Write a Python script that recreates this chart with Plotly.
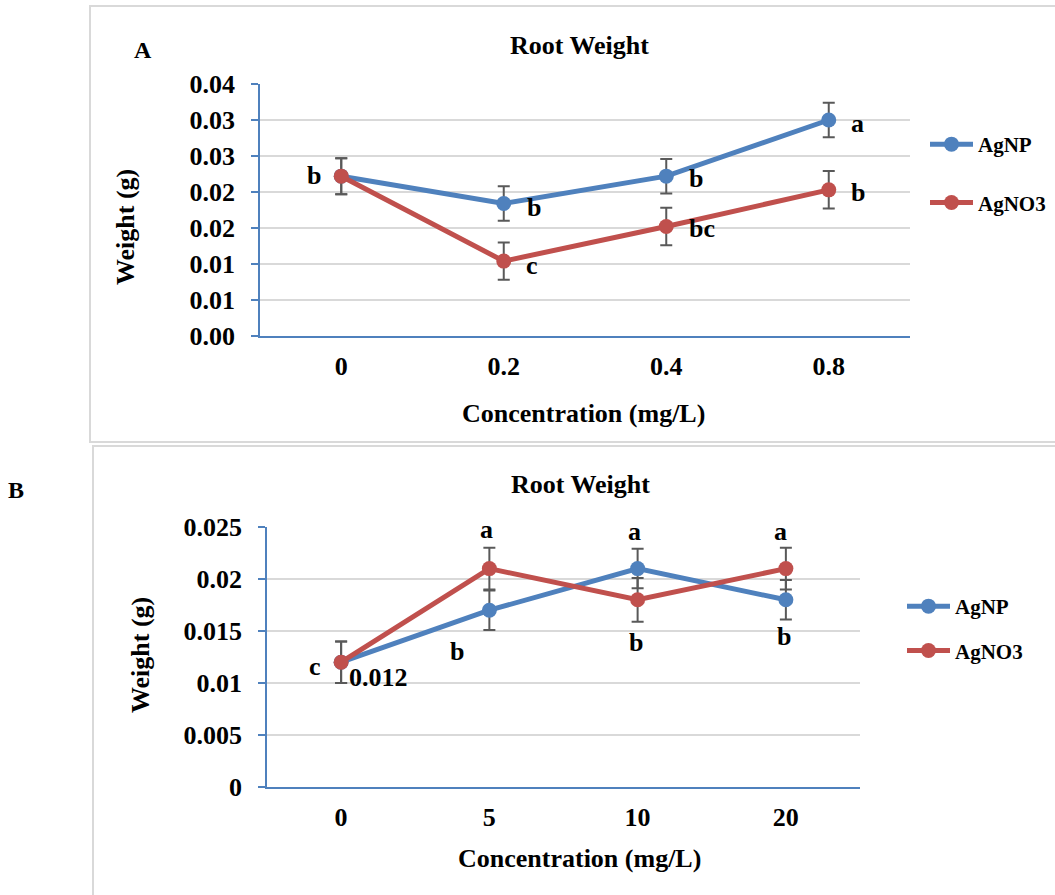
import plotly.graph_objects as go

# ---------------- data ----------------
cats_a = ["0", "0.2", "0.4", "0.8"]
agnp_a = [0.0222, 0.0184, 0.0222, 0.0300]
agnp_a_err = [0.0025, 0.0024, 0.0024, 0.0024]
agno3_a = [0.0222, 0.0104, 0.0152, 0.0203]
agno3_a_err = [0.0025, 0.0026, 0.0026, 0.0026]
letters_agnp_a = ["", "b", "b", "a"]
letters_agno3_a = ["b", "c", "bc", "b"]
ytick_vals_a = [0, 0.005, 0.01, 0.015, 0.02, 0.025, 0.03, 0.035]
ytick_text_a = ["0.00", "0.01", "0.01", "0.02", "0.02", "0.03", "0.03", "0.04"]

cats_b = ["0", "5", "10", "20"]
agnp_b = [0.012, 0.017, 0.021, 0.018]
agnp_b_err = [0.002, 0.0019, 0.0019, 0.0019]
agno3_b = [0.012, 0.021, 0.018, 0.021]
agno3_b_err = [0.002, 0.002, 0.0021, 0.002]
ytick_vals_b = [0, 0.005, 0.01, 0.015, 0.02, 0.025]
ytick_text_b = ["0", "0.005", "0.01", "0.015", "0.02", "0.025"]

BLUE = "#4f81bd"
RED = "#c0504d"
ERR = "#595959"
GRID = "#d9d9d9"
AX = "#4f81bd"
FONT = "Liberation Serif"
W, H = 1055, 895

fig = go.Figure()


def add_series(x, y, err, name, color, xa, ya, legend):
    fig.add_trace(go.Scatter(
        x=x, y=y, name=name, mode="lines+markers",
        line=dict(color=color, width=5),
        marker=dict(color=color, size=15),
        error_y=dict(type="data", array=err, color=ERR, thickness=2, width=6),
        xaxis=xa, yaxis=ya, legend=legend, legendgroup=name + legend,
    ))


add_series(cats_a, agnp_a, agnp_a_err, "AgNP", BLUE, "x", "y", "legend")
add_series(cats_a, agno3_a, agno3_a_err, "AgNO3", RED, "x", "y", "legend")
add_series(cats_b, agnp_b, agnp_b_err, "AgNP", BLUE, "x2", "y2", "legend2")
add_series(cats_b, agno3_b, agno3_b_err, "AgNO3", RED, "x2", "y2", "legend2")

tickfont = dict(family=FONT, size=26, color="black", weight="bold")


def xax(domain, anchor, n):
    return dict(domain=domain, anchor=anchor, type="category",
                range=[-0.5, n - 0.5], autorange=False, automargin=False,
                showline=True, linecolor=AX, linewidth=1.5, showgrid=False,
                ticks="", tickfont=tickfont, ticklabelstandoff=6,
                fixedrange=True)


def yax(domain, anchor, rng, vals, text):
    return dict(domain=domain, anchor=anchor, range=rng, autorange=False,
                automargin=False, tickvals=vals,
                ticktext=text, showline=True, linecolor=AX, linewidth=1.5,
                showgrid=True, gridcolor=GRID, gridwidth=1.5,
                ticks="outside", ticklen=7, tickcolor=AX, tickwidth=1.5,
                tickfont=tickfont, ticklabelstandoff=11,
                zeroline=False, fixedrange=True)


def px(xp):
    return xp / W


def py(yp):
    return 1 - yp / H


legfont = dict(family=FONT, size=21, color="black", weight="bold")
fig.update_layout(
    width=W, height=H, autosize=False, margin=dict(l=0, r=0, t=0, b=0, pad=0),
    paper_bgcolor="white", plot_bgcolor="white",
    xaxis=xax([px(260), px(910)], "y", len(cats_a)),
    yaxis=yax([py(336), py(84)], "x", [0, 0.035], ytick_vals_a, ytick_text_a),
    xaxis2=xax([px(267), px(860)], "y2", len(cats_b)),
    yaxis2=yax([py(787), py(527)], "x2", [0, 0.025], ytick_vals_b, ytick_text_b),
    legend=dict(x=px(925), y=py(124), xanchor="left", yanchor="top",
                font=legfont, itemwidth=43,
                tracegroupgap=28, bgcolor="rgba(0,0,0,0)"),
    legend2=dict(x=px(902), y=py(586), xanchor="left", yanchor="top",
                 font=legfont, itemwidth=43,
                 tracegroupgap=14, bgcolor="rgba(0,0,0,0)"),
    showlegend=True,
)

anns = []


def txt(text, x, y, xref="paper", yref="paper", angle=0, xshift=0, yshift=0, size=26):
    anns.append(dict(text=text, x=x, y=y, xref=xref, yref=yref, showarrow=False,
                     textangle=angle, xshift=xshift, yshift=yshift,
                     xanchor="center", yanchor="middle",
                     font=dict(family=FONT, size=size, color="black", weight="bold")))


# panel A text
txt("Root Weight", px(579), py(45))
txt("A", px(143), py(50), size=24)
txt("Weight (g)", px(125), py(227), angle=-90)
txt("Concentration (mg/L)", px(583), py(413))
# panel B text
txt("Root Weight", px(580), py(484))
txt("B", px(16), py(490), size=24)
txt("Weight (g)", px(140), py(655), angle=-90)
txt("Concentration (mg/L)", px(579), py(858))

# significance letters, panel A (x as category index)
txt(letters_agno3_a[0], 0, agno3_a[0], "x", "y", xshift=-27, yshift=1)
shA_np = [(0, 0), (30, -4), (30, -2), (29, -3)]
shA_no3 = [(0, 0), (28, -4), (36, -2), (29, -3)]
for i in range(1, 4):
    txt(letters_agnp_a[i], i, agnp_a[i], "x", "y",
        xshift=shA_np[i][0], yshift=shA_np[i][1])
    txt(letters_agno3_a[i], i, agno3_a[i], "x", "y",
        xshift=shA_no3[i][0], yshift=shA_no3[i][1])

# significance letters, panel B
txt("c", 0, agnp_b[0], "x2", "y2", xshift=-26, yshift=-4)
txt("0.012", 0, agnp_b[0], "x2", "y2", xshift=37, yshift=-15)
txt("a", 1, agno3_b[1], "x2", "y2", xshift=-3, yshift=39)
txt("b", 1, agnp_b[1], "x2", "y2", xshift=-32, yshift=-41)
txt("a", 2, agnp_b[2], "x2", "y2", xshift=-3, yshift=37)
txt("b", 2, agno3_b[2], "x2", "y2", xshift=-2, yshift=-43)
txt("a", 3, agno3_b[3], "x2", "y2", xshift=-5, yshift=37)
txt("b", 3, agnp_b[3], "x2", "y2", xshift=-2, yshift=-37)

fig.update_layout(annotations=anns)

# panel frames
frame = dict(color="#d9d9d9", width=2)
fig.add_shape(type="rect", xref="paper", yref="paper",
              x0=px(90), x1=px(1062), y0=py(442), y1=py(6), line=frame)
fig.add_shape(type="rect", xref="paper", yref="paper",
              x0=px(93), x1=px(1062), y0=py(905), y1=py(446), line=frame)

fig.write_html("out.html",
               config={"displayModeBar": False},
               post_script="document.body.style.margin='0';"
                           "document.body.style.overflow='hidden';")
